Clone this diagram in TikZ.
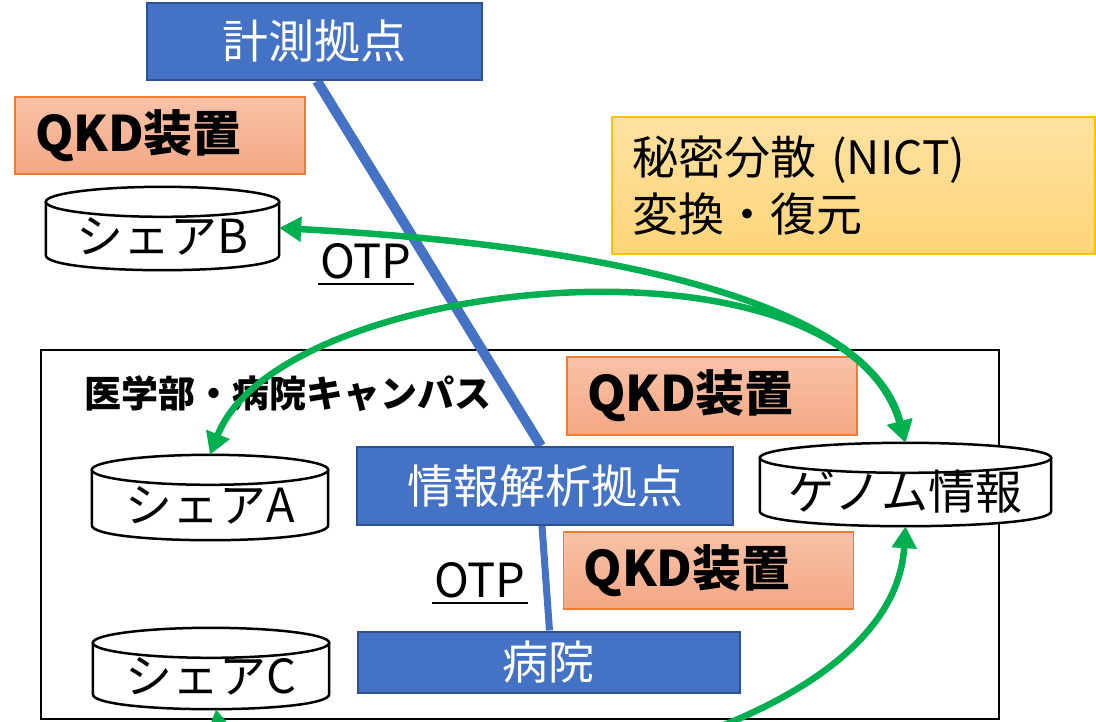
\documentclass[tikz,border=0pt]{standalone}
\usepackage{fontspec}
\newfontfamily\jp{Noto Sans CJK JP}
\usetikzlibrary{arrows.meta,calc,backgrounds}
\definecolor{bfill}{HTML}{4472C4}
\definecolor{bedge}{HTML}{2F528F}
\definecolor{otop}{HTML}{F8C2A8}
\definecolor{obot}{HTML}{F4A783}
\definecolor{oedge}{HTML}{ED7D31}
\definecolor{ytop}{HTML}{FFE1A1}
\definecolor{ybot}{HTML}{FFD57A}
\definecolor{yedge}{HTML}{FFC000}
\definecolor{gline}{HTML}{00B050}
\tikzset{
  bluebox/.style={draw=bedge, line width=2pt, fill=bfill, text=white,
    font=\jp\fontsize{46}{55}\selectfont, inner sep=0pt},
  qkdbox/.style={draw=oedge, line width=1.5pt, top color=otop, bottom color=obot,
    font=\jp\bfseries\fontsize{49}{58}\selectfont, align=left, inner xsep=20pt,
    inner ysep=0pt, text width=250pt, minimum height=77pt},
  secbox/.style={draw=yedge, line width=1.5pt, top color=ytop, bottom color=ybot,
    font=\jp\fontsize{46}{57}\selectfont, align=left, inner xsep=20pt,
    inner ysep=0pt, text width=443pt, minimum height=137pt},
  cylnode/.style={inner sep=0pt, font=\jp\fontsize{47}{56}\selectfont},
  cylline/.style={draw=black, fill=white, line width=2.5pt},
  otptext/.style={inner sep=0pt, font=\jp\fontsize{47}{56}\selectfont},
  blueline/.style={draw=bfill},
  garrow/.style={draw=gline, line width=6.5pt,
    arrows={Triangle[length=22pt,width=24pt]-Triangle[length=22pt,width=24pt]}},
}
\newcommand\cylshape[1]{%
  \filldraw[cylline] let \p1=(#1.north west), \p2=(#1.south east) in
    (\x1,\y1) -- (\x1,\y2+15pt) .. controls (\x1,\y2-5pt) and (\x2,\y2-5pt) .. (\x2,\y2+15pt) -- (\x2,\y1);
  \filldraw[cylline] let \p1=(#1.north west), \p2=(#1.north east) in
    (#1.north) ellipse [x radius={0.5*(\x2-\x1)}, y radius=15pt];
}
\begin{document}
\begin{tikzpicture}[x=1pt,y=-1pt]
\useasboundingbox (0,0) rectangle (1096,721);

% boxes
\node[bluebox, minimum width=335pt, minimum height=77pt] (mes) at (314.5,41.5) {計測拠点};
\node[bluebox, minimum width=376pt, minimum height=78pt] (ana) at (545,486) {情報解析拠点};
\node[bluebox, minimum width=382pt, minimum height=61pt] (hosp) at (548.5,662) {病院};
\node[qkdbox] (qkd1) at (160,135.5) {QKD装置};
\node[qkdbox, minimum height=78pt] (qkd2) at (712,396) {QKD装置};
\node[qkdbox] (qkd3) at (708.5,570.5) {QKD装置};
\node[secbox] (sec) at (853.5,185.5) {秘密分散 (NICT)\\変換・復元};

% cylinders (text nodes; shapes drawn on background)
\node[cylnode, minimum width=233pt, minimum height=68pt] (shB) at (162.5,236) {シェアB};
\node[cylnode, minimum width=236pt, minimum height=70pt] (shA) at (210,505) {シェアA};
\node[cylnode, minimum width=236pt, minimum height=66pt] (shC) at (211,676) {シェアC};
\node[cylnode, minimum width=291pt, minimum height=68pt] (gen) at (905.5,492) {ゲノム情報};

% labels
\node[anchor=west, inner sep=0pt, font=\jp\bfseries\fontsize{37}{44}\selectfont] (clabel) at (84,394) {医学部・病院キャンパス};
\node[otptext, anchor=base west] (otp1) at (320,278) {OTP};
\node[otptext, anchor=base west] (otp2) at (434,597) {OTP};
\draw[line width=2pt] ([shift={(-2pt,-6pt)}]otp1.base west) -- ([shift={(2pt,-6pt)}]otp1.base east);
\draw[line width=2pt] ([shift={(-2pt,-6pt)}]otp2.base west) -- ([shift={(2pt,-6pt)}]otp2.base east);

\begin{pgfonlayer}{background}
  \node[draw=black, line width=2pt, minimum width=958pt, minimum height=369pt, inner sep=0pt] (campus) at (520,534.5) {};
  \draw[blueline, line width=10pt] ([xshift=2.5pt]mes.south) -- ([xshift=-4pt]ana.north);
  \draw[blueline, line width=7pt] ([xshift=-3pt]ana.south) -- ([xshift=1pt]hosp.north);
  \cylshape{shB}
  \cylshape{shA}
  \cylshape{shC}
  \cylshape{gen}
\end{pgfonlayer}

% green connectors
\begin{scope}
\clip (0,0) rectangle (1096,721);
\draw[garrow] ([yshift=8pt]shB.east) .. controls (600,245) and (870,300) .. ([yshift=15pt]gen.north);
\draw[garrow] ([yshift=15pt]shA.north) .. controls (280,275) and (840,220) .. ([yshift=15pt]gen.north);
\draw[garrow] ([xshift=5pt]shC.south) .. controls (240,850) and (890,780) .. (gen.south);
\end{scope}
\end{tikzpicture}
\end{document}
